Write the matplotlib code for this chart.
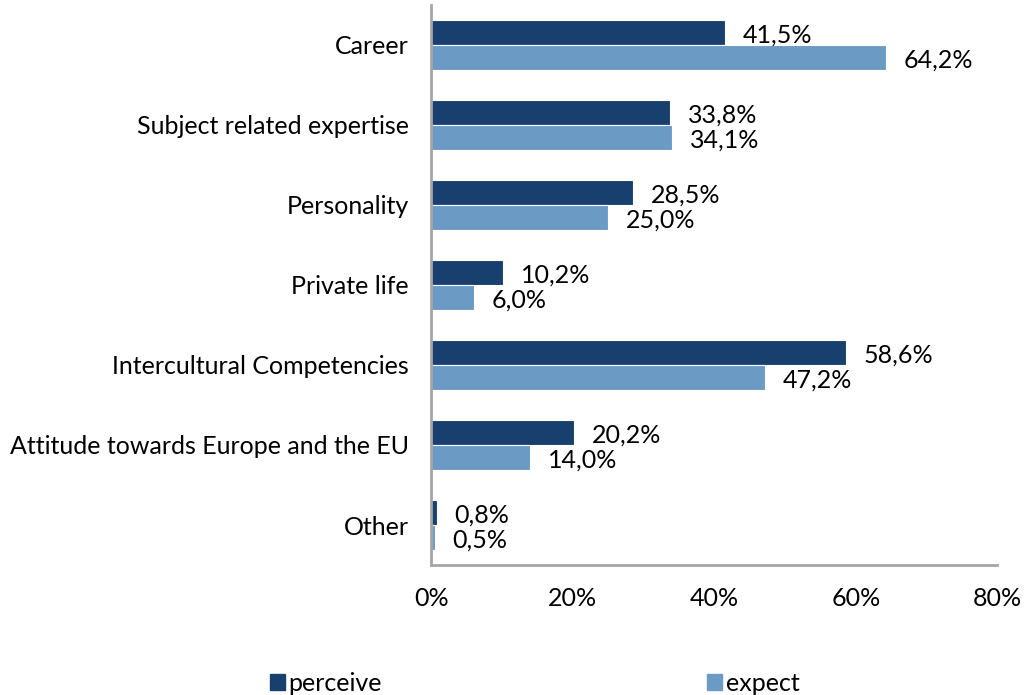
import numpy as np
from matplotlib import pyplot as plt
from matplotlib.patches import Patch

# data
categories = ['Career', 'Subject related expertise', 'Personality', 'Private life',
              'Intercultural Competencies', 'Attitude towards Europe and the EU', 'Other']
perceive = [41.5, 33.8, 28.5, 10.2, 58.6, 20.2, 0.8]
expect = [64.2, 34.1, 25.0, 6.0, 47.2, 14.0, 0.5]
xticks = [0, 20, 40, 60, 80]

dark = '#17406f'
light = '#6b9bc5'
fs = 18

plt.rcParams['font.family'] = ['Lato', 'DejaVu Sans']

fig = plt.figure(figsize=(10.24, 6.95), dpi=100)
ax = fig.add_axes([0.421, 0.187, 0.553, 0.806])

y = np.arange(len(categories))
h = 0.31
ax.barh(y - h / 2, perceive, height=h, color=dark, edgecolor='white', linewidth=0.8)
ax.barh(y + h / 2, expect, height=h, color=light, edgecolor='white', linewidth=0.8)

def fmt(v):
    return f'{v:.1f}%'.replace('.', ',')

for i in range(len(categories)):
    ax.text(perceive[i] + 2.5, y[i] - h / 2 + 0.03, fmt(perceive[i]), va='center', ha='left', fontsize=fs)
    ax.text(expect[i] + 2.5, y[i] + h / 2 + 0.03, fmt(expect[i]), va='center', ha='left', fontsize=fs)

ax.set_ylim(len(categories) - 0.5, -0.5)
ax.set_xlim(0, 80)
ax.set_yticks(y)
ax.set_yticklabels(categories, fontsize=fs)
ax.set_xticks(xticks)
ax.set_xticklabels([f'{t}%' for t in xticks], fontsize=fs)
ax.tick_params(axis='both', length=0)
ax.tick_params(axis='x', pad=16)
ax.tick_params(axis='y', pad=16)
for s in ['top', 'right']:
    ax.spines[s].set_visible(False)
for s in ['left', 'bottom']:
    ax.spines[s].set_color('#a6a6a6')
    ax.spines[s].set_linewidth(2)

handles = [Patch(color=dark, label='perceive'), Patch(color=light, label='expect')]
fig.legend(handles=handles, loc='center', bbox_to_anchor=(0.522, 0.017), ncol=2,
           frameon=False, fontsize=fs, handlelength=0.6, handleheight=0.6,
           handletextpad=0.15, columnspacing=13.0)

plt.savefig('out.png', dpi=100)
